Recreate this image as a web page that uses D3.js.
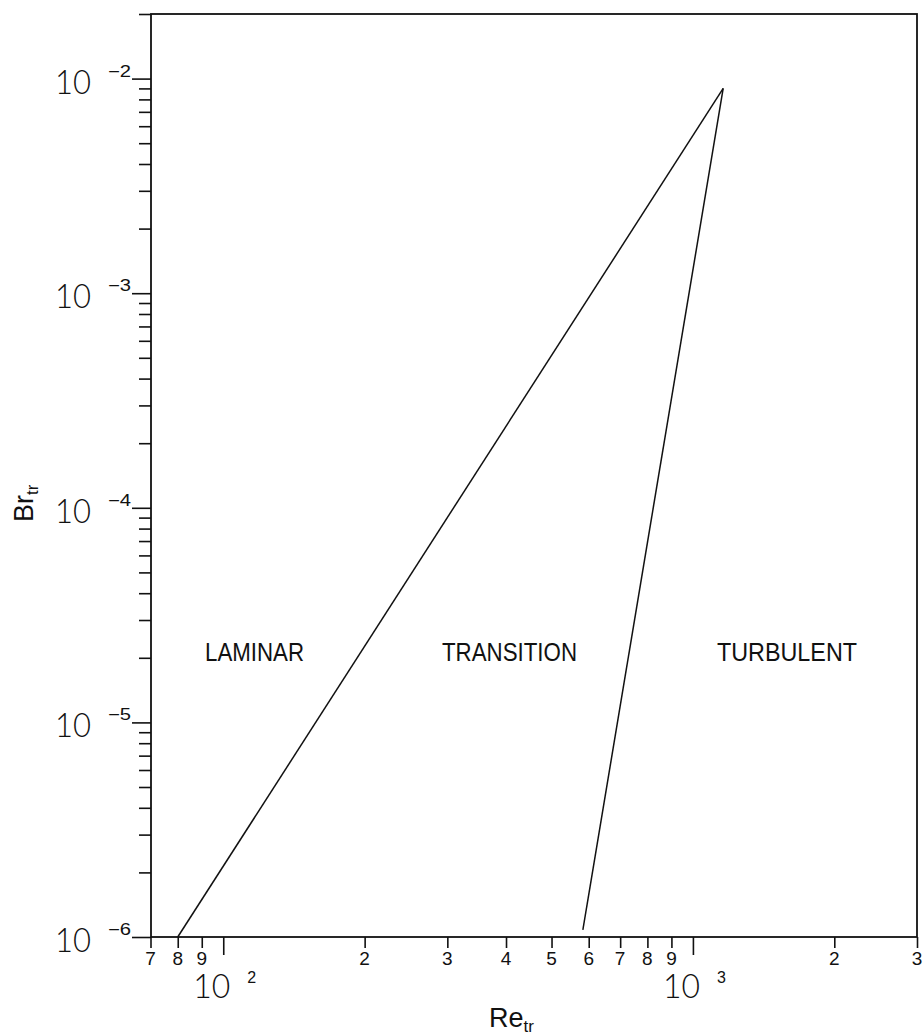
<!DOCTYPE html>
<html>
<head>
<meta charset="utf-8">
<script src="https://cdn.jsdelivr.net/npm/d3@7"></script>
<style>
  html, body { margin: 0; padding: 0; background: #fff; }
  svg { display: block; }
  text { font-family: "Liberation Sans", Arial, Helvetica, sans-serif; fill: #111; }
  text.light { font-family: Lato, "Liberation Sans", sans-serif; font-weight: 300; }
</style>
</head>
<body>
<svg id="chart" width="924" height="1035"></svg>
<script>
// Flow regime boundaries: transitional Brinkman number vs transitional Reynolds number
const laminarBoundaryRe = [80, 1160];
const laminarBoundaryBr = [1e-6, 9e-3];
const turbulentBoundaryRe = [583, 1160];
const turbulentBoundaryBr = [1.08e-6, 9e-3];

// Region names
const regionNames = ["LAMINAR", "TRANSITION", "TURBULENT"];

// Axis ticks
const xDigitTicks = [70, 80, 90, 200, 300, 400, 500, 600, 700, 800, 900, 2000, 3000];
const xDigitLabels = ["7", "8", "9", "2", "3", "4", "5", "6", "7", "8", "9", "2", "3"];
const xDecadeTicks = [100, 1000];
const xDecadeExponents = ["2", "3"];
const yDecadeTicks = [1e-6, 1e-5, 1e-4, 1e-3, 1e-2];
const yDecadeExponents = ["\u22126", "\u22125", "\u22124", "\u22123", "\u22122"];

const svg = d3.select("#chart");

const plotLeft = 151, plotRight = 917, plotTop = 14, plotBottom = 937;
const x = d3.scaleLog().domain([70, 3000]).range([150.5, plotRight]);
const y = d3.scaleLog().domain([1e-6, 2e-2]).range([plotBottom, plotTop]);

const yMinorTicks = y.ticks().filter(v => !yDecadeTicks.some(d => Math.abs(d - v) / d < 1e-9));

// Frame
svg.append("rect")
  .attr("x", plotLeft).attr("y", plotTop)
  .attr("width", plotRight - plotLeft).attr("height", plotBottom - plotTop)
  .attr("fill", "none").attr("stroke", "#111").attr("stroke-width", 1.8);

function styleAxis(g) {
  g.select(".domain").remove();
  g.selectAll(".tick line").attr("stroke", "#111").attr("stroke-width", 1.6);
  g.selectAll(".tick text").remove();
}

// Y axis ticks (outside, left)
svg.append("g").attr("transform", `translate(${plotLeft},0)`)
  .call(d3.axisLeft(y).tickValues(yDecadeTicks).tickSize(19).tickFormat(""))
  .call(styleAxis);
svg.append("g").attr("transform", `translate(${plotLeft},0)`)
  .call(d3.axisLeft(y).tickValues(yMinorTicks).tickSize(12).tickFormat(""))
  .call(styleAxis);

// X axis ticks (outside, below)
svg.append("g").attr("transform", `translate(0,${plotBottom})`)
  .call(d3.axisBottom(x).tickValues(xDecadeTicks).tickSize(18).tickFormat(""))
  .call(styleAxis);
svg.append("g").attr("transform", `translate(0,${plotBottom})`)
  .call(d3.axisBottom(x).tickValues(xDigitTicks).tickSize(11).tickFormat(""))
  .call(styleAxis);

// Y decade labels: 10 with superscript exponent
const yLab = svg.append("g");
yDecadeTicks.forEach((v, i) => {
  yLab.append("text").attr("class", "light")
    .attr("x", plotLeft - 60).attr("y", y(v) + 15)
    .attr("text-anchor", "end")
    .attr("font-size", 34)
    .attr("textLength", 36).attr("lengthAdjust", "spacingAndGlyphs")
    .text("10");
  yLab.append("text")
    .attr("x", plotLeft - 43).attr("y", y(v) - 2)
    .attr("font-size", 16)
    .attr("textLength", 23).attr("lengthAdjust", "spacingAndGlyphs")
    .text(yDecadeExponents[i]);
});

// X digit labels
const xLab = svg.append("g");
xDigitTicks.forEach((v, i) => {
  xLab.append("text")
    .attr("x", x(v)).attr("y", plotBottom + 28)
    .attr("text-anchor", "middle")
    .attr("font-size", 19)
    .text(xDigitLabels[i]);
});

// X decade labels
xDecadeTicks.forEach((v, i) => {
  xLab.append("text").attr("class", "light")
    .attr("x", x(v) - 30).attr("y", plotBottom + 61)
    .attr("font-size", 33)
    .attr("textLength", 37).attr("lengthAdjust", "spacingAndGlyphs")
    .text("10");
  xLab.append("text")
    .attr("x", x(v) + 24).attr("y", plotBottom + 46)
    .attr("font-size", 16)
    .text(xDecadeExponents[i]);
});

// Axis titles
const reTitle = svg.append("text")
  .attr("x", 489).attr("y", 1027)
  .attr("font-size", 27);
reTitle.append("tspan").text("Re");
reTitle.append("tspan").attr("font-size", 17).attr("dy", 5).text("tr");

const brTitle = svg.append("text")
  .attr("transform", "translate(33,522) rotate(-90)")
  .attr("font-size", 27);
brTitle.append("tspan").text("Br");
brTitle.append("tspan").attr("font-size", 17).attr("dy", 5).text("tr");

// Boundary curves
const line = d3.line().x(d => x(d[0])).y(d => y(d[1]));
const curves = [
  d3.zip(laminarBoundaryRe, laminarBoundaryBr),
  d3.zip(turbulentBoundaryRe, turbulentBoundaryBr)
];
svg.append("g").selectAll("path")
  .data(curves)
  .join("path")
  .attr("d", line)
  .attr("fill", "none")
  .attr("stroke", "#111")
  .attr("stroke-width", 1.5)
  .attr("stroke-linejoin", "miter");

// Region labels
const regionPos = [[205, 99], [442, 135], [717, 140]];
svg.append("g").selectAll("text")
  .data(regionNames)
  .join("text")
  .attr("x", (d, i) => regionPos[i][0])
  .attr("y", 661)
  .attr("font-size", 25)
  .attr("textLength", (d, i) => regionPos[i][1])
  .attr("lengthAdjust", "spacingAndGlyphs")
  .text(d => d);
</script>
</body>
</html>
